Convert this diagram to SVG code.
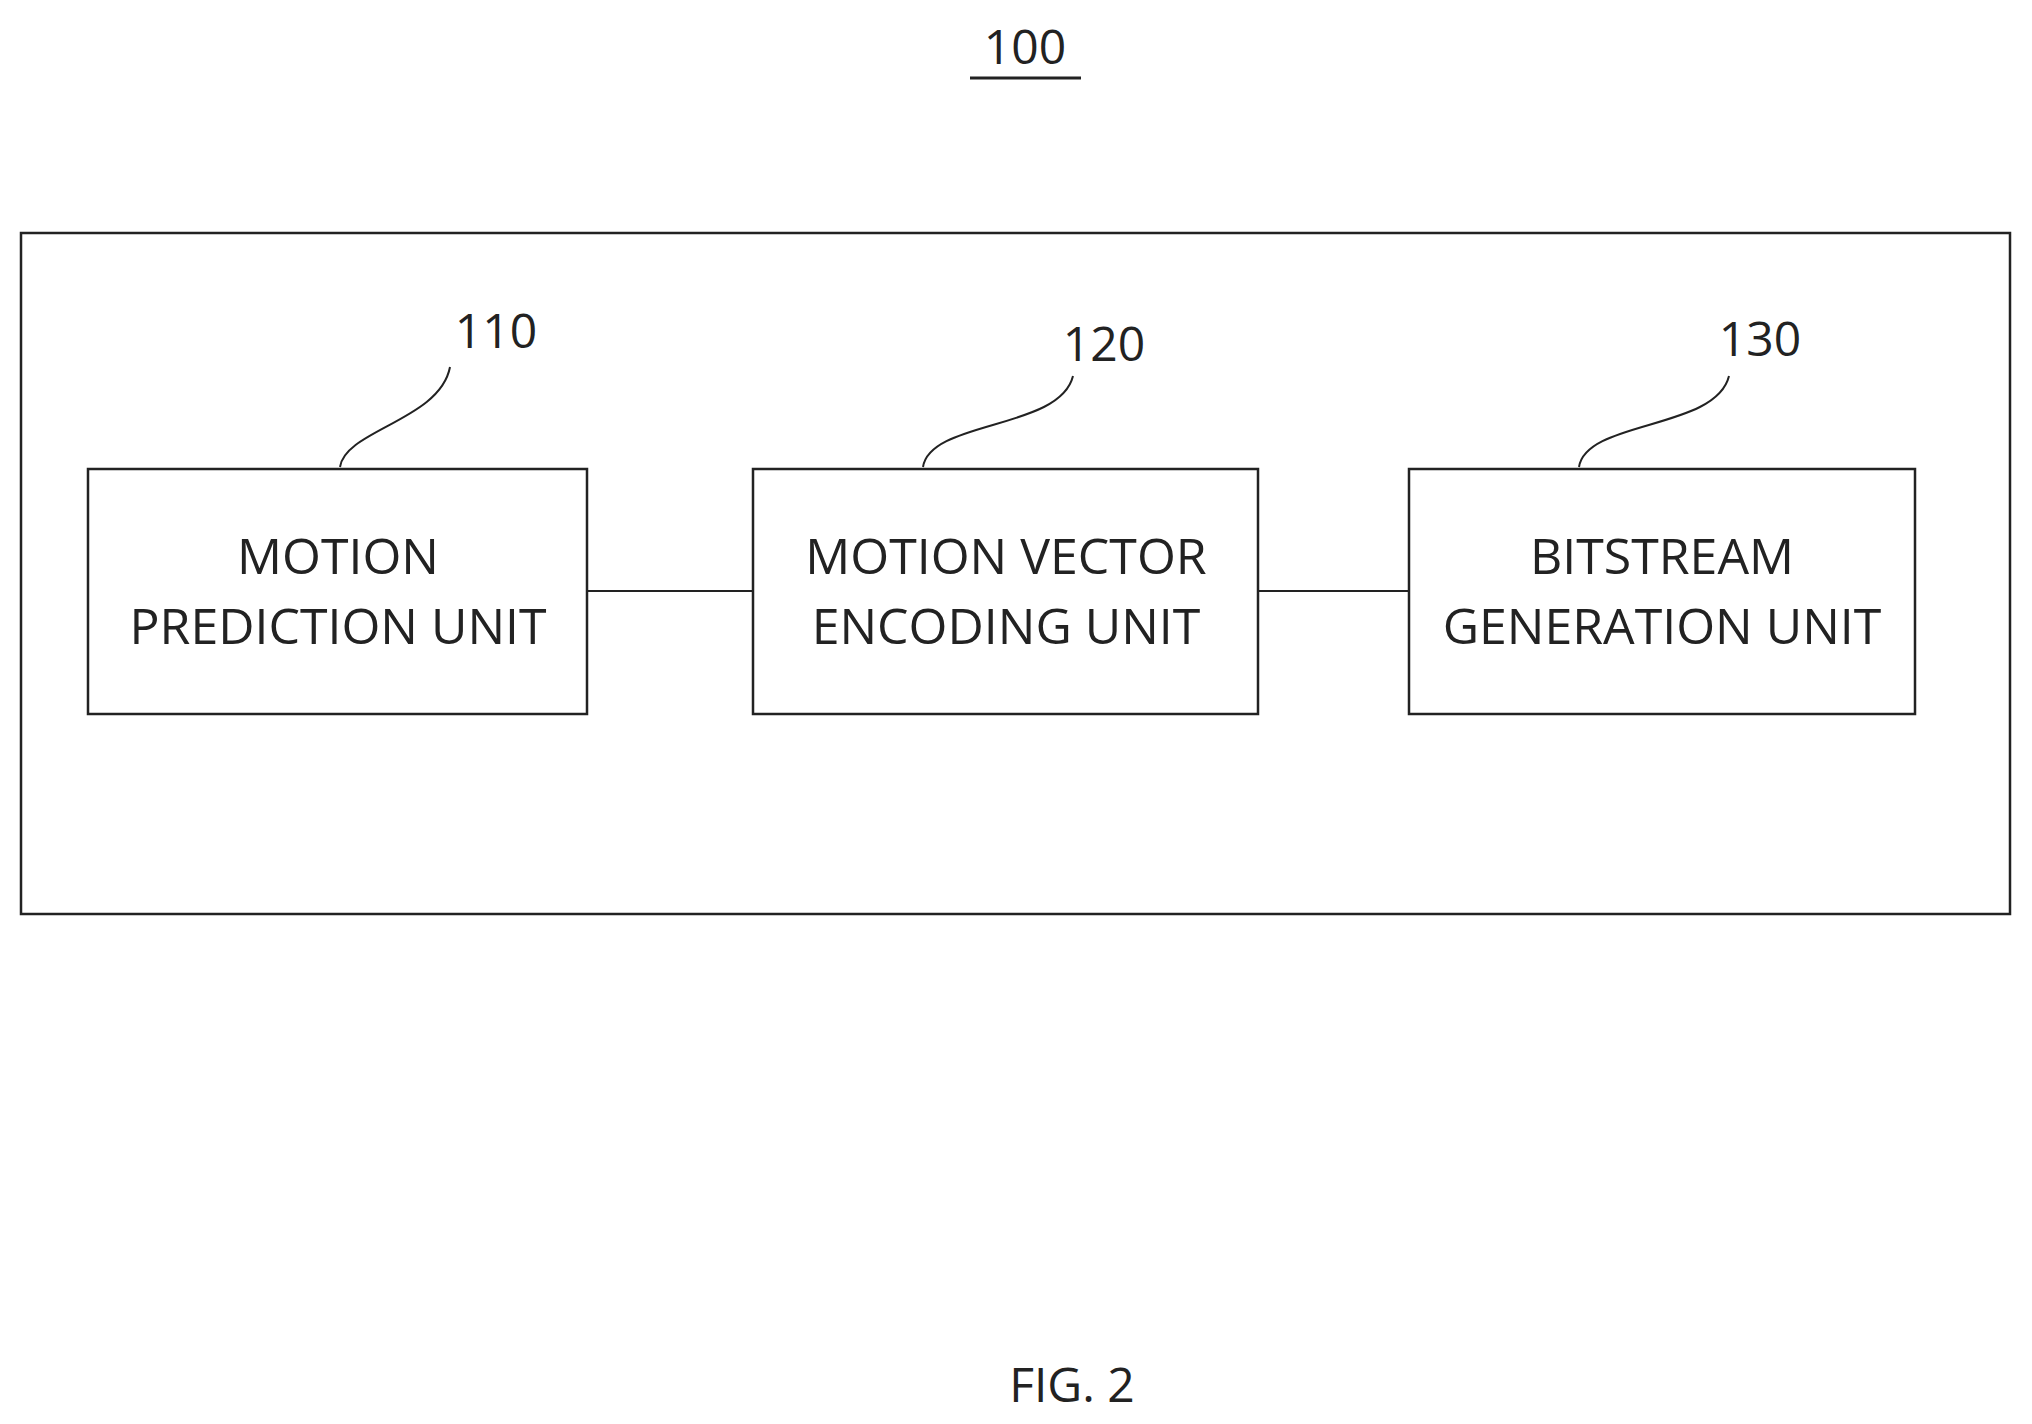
<svg xmlns="http://www.w3.org/2000/svg" width="2032" height="1424" viewBox="0 0 2032 1424">
<style>
.b{fill:#fff;stroke:#222;stroke-width:2.5}
.l{fill:none;stroke:#222;stroke-width:2}
.t{font-family:"Open Sans","Liberation Sans",sans-serif;font-size:50px;fill:#222;text-anchor:middle}
.n{font-family:"Open Sans","Liberation Sans",sans-serif;font-size:48px;fill:#222;text-anchor:middle}
</style>
<rect width="2032" height="1424" fill="#fff"/>
<g id="title"><text class="n" x="1025" y="64" font-size="62">100</text><line x1="970" y1="78" x2="1081" y2="78" stroke="#222" stroke-width="3"/></g>
<g id="container"><rect class="b" x="21" y="233" width="1989" height="681"/></g>
<g id="connectors">
<line class="l" x1="587" y1="591" x2="753" y2="591"/>
<line class="l" x1="1258" y1="591" x2="1409" y2="591"/>
<path class="l" d="M340,467 C345,430 440,420 450,367"/>
<path class="l" d="M923,467 C930,420 1060,430 1073,376"/>
<path class="l" d="M1579,467 C1586,420 1716,430 1729,376"/>
</g>
<g id="n110"><rect class="b" x="88" y="469" width="499" height="245"/>
<text class="t" x="338" y="574">MOTION</text><text class="t" x="338" y="644">PREDICTION UNIT</text>
<text class="n" x="496" y="348">110</text></g>
<g id="n120"><rect class="b" x="753" y="469" width="505" height="245"/>
<text class="t" x="1006" y="574">MOTION VECTOR</text><text class="t" x="1006" y="644">ENCODING UNIT</text>
<text class="n" x="1104" y="361">120</text></g>
<g id="n130"><rect class="b" x="1409" y="469" width="506" height="245"/>
<text class="t" x="1662" y="574">BITSTREAM</text><text class="t" x="1662" y="644">GENERATION UNIT</text>
<text class="n" x="1760" y="356">130</text></g>
<g id="fig"><text class="n" x="1072" y="1402" font-size="58">FIG. 2</text></g>
</svg>
